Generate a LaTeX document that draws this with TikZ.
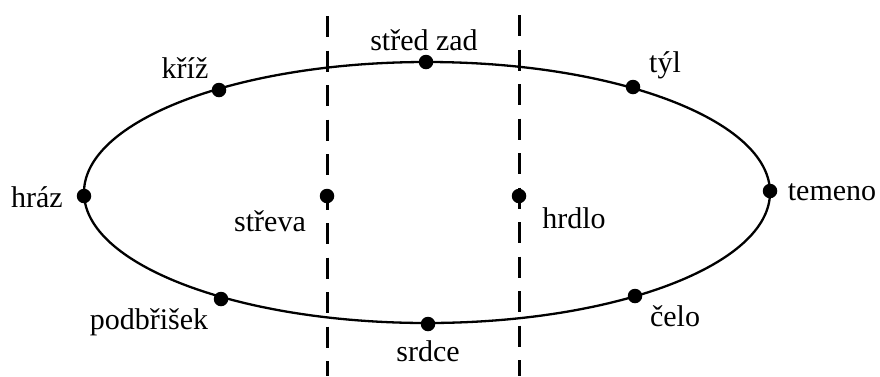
\documentclass[tikz,border=0pt]{standalone}
\usepackage{fontspec}
\setmainfont{Liberation Serif}
\begin{document}
\begin{tikzpicture}[x=1pt,y=-1pt,
  pt/.style={circle,fill=black,inner sep=0pt,minimum size=14.5pt},
  lbl/.style={inner sep=0pt,font=\fontsize{30}{31}\selectfont},
  cut/.style={line width=3pt,dash pattern=on 21pt off 13.5pt}]
\useasboundingbox (0,0) rectangle (880,376);
\draw[line width=2.3pt] (427,192.5) ellipse [x radius=343, y radius=130.5];
\coordinate (l1t) at (327,16);
\coordinate (l1b) at (327,376);
\coordinate (l2t) at (519,15);
\coordinate (l2b) at (519,376);
\draw[cut] (l1t) -- (l1b);
\draw[cut] (l2t) -- (l2b);
\node[pt] (kriz) at (219,90) {};
\node[pt] (stred) at (426,62) {};
\node[pt] (tyl) at (633,87) {};
\node[pt] (hraz) at (84,196) {};
\node[pt] (temeno) at (770,191) {};
\node[pt] (podbrisek) at (221,299) {};
\node[pt] (srdce) at (428,324) {};
\node[pt] (celo) at (635,296) {};
\node[pt] (streva) at (327,196) {};
\node[pt] (hrdlo) at (519,196) {};
\node[lbl] at (185,68) {kříž};
\node[lbl] at (424,40) {střed zad};
\node[lbl] at (665,65) {týl};
\node[lbl] at (37,197) {hráz};
\node[lbl] at (832,192) {temeno};
\node[lbl] at (149,322) {podbřišek};
\node[lbl] at (428,351) {srdce};
\node[lbl] at (675,316) {čelo};
\node[lbl] at (270,221) {střeva};
\node[lbl] at (574,218) {hrdlo};
\end{tikzpicture}
\end{document}
